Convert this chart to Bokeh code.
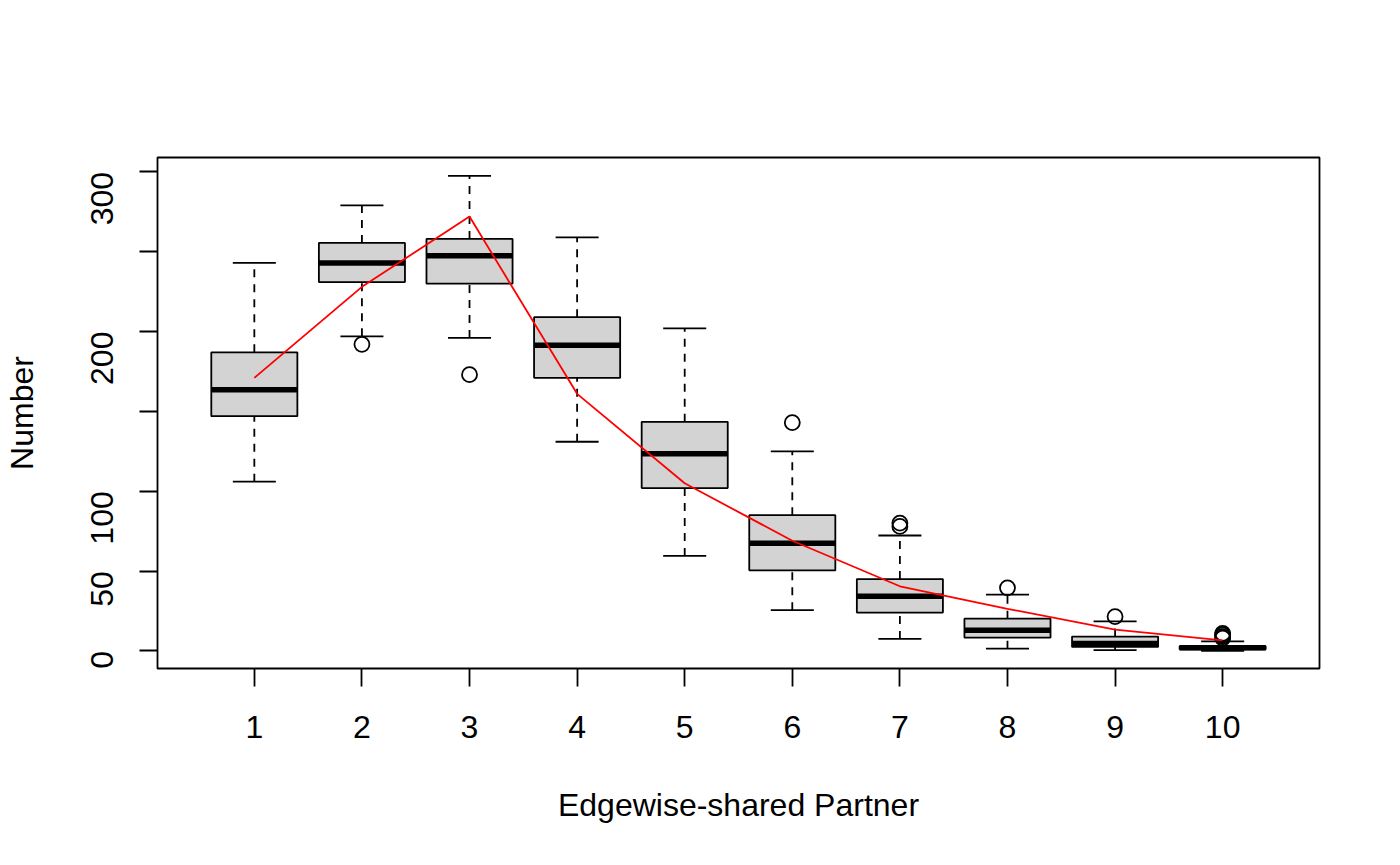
import numpy as np
from bokeh.plotting import figure
from bokeh.models import FixedTicker, Range1d
from bokeh.embed import file_html
from bokeh.resources import INLINE

# ---- data ----
partners = [1, 2, 3, 4, 5, 6, 7, 8, 9, 10]
lower_whisker = [106, 197, 196, 131, 59.5, 25.5, 7.5, 1.4, 0.5, 0]
q1 = [147, 231, 230, 171, 102, 50.5, 24, 8.3, 2.5, 1]
median = [163.5, 243, 247.5, 191.5, 123.5, 67.5, 34.3, 13, 4.7, 2]
q3 = [187, 255.5, 258, 209, 143.5, 85, 45, 20.2, 9, 3]
upper_whisker = [243, 279, 297.5, 259, 202, 125, 72.3, 35.3, 18.5, 6]
outlier_x = [2, 3, 6, 7, 7, 8, 9, 10, 10, 10, 10]
outlier_y = [192, 173, 143, 78, 80, 39.5, 21.5, 8, 9, 10, 11]
observed = [171, 228, 272, 161, 105, 69, 40.5, 26.4, 13.3, 6.6]

x_ticks = [1, 2, 3, 4, 5, 6, 7, 8, 9, 10]
y_ticks = [0, 50, 100, 150, 200, 250, 300]
y_hidden_labels = {150: "", 250: ""}

FONT = "Liberation Sans"
LW = 1.8

x = np.array(partners, dtype=float)
box_w = 0.8
cap_w = 0.4

p = figure(width=1384, height=849, output_backend="svg", toolbar_location=None,
           x_range=Range1d(0.1, 10.9), y_range=Range1d(-11, 309),
           min_border_left=157, min_border_right=65,
           min_border_top=157, min_border_bottom=181)

p.background_fill_color = "white"
p.border_fill_color = "white"
p.outline_line_color = "black"
p.outline_line_width = LW
p.grid.visible = False

# whiskers (dashed)
p.segment(x0=x, y0=q3, x1=x, y1=upper_whisker, line_color="black",
          line_width=LW, line_dash="8 7")
p.segment(x0=x, y0=lower_whisker, x1=x, y1=q1, line_color="black",
          line_width=LW, line_dash="8 7")
# caps
p.segment(x0=x - cap_w / 2, y0=upper_whisker, x1=x + cap_w / 2, y1=upper_whisker,
          line_color="black", line_width=LW)
p.segment(x0=x - cap_w / 2, y0=lower_whisker, x1=x + cap_w / 2, y1=lower_whisker,
          line_color="black", line_width=LW)
# boxes
p.vbar(x=x, width=box_w, bottom=q1, top=q3, fill_color="#d3d3d3",
       line_color="black", line_width=LW)
# medians
p.segment(x0=x - box_w / 2, y0=median, x1=x + box_w / 2, y1=median,
          line_color="black", line_width=5.5, line_cap="butt")
# outliers
p.scatter(x=outlier_x, y=outlier_y, marker="circle", size=15,
          fill_color=None, line_color="black", line_width=LW)
# observed line
p.line(x=x, y=observed, line_color="red", line_width=1.8)

# axes
p.xaxis.ticker = FixedTicker(ticks=x_ticks)
p.yaxis.ticker = FixedTicker(ticks=y_ticks)
p.yaxis.major_label_overrides = y_hidden_labels
for ax in (p.xaxis[0], p.yaxis[0]):
    ax.axis_line_color = None
    ax.major_tick_in = 0
    ax.major_tick_out = 18
    ax.major_tick_line_width = LW
    ax.major_tick_line_color = "black"
    ax.minor_tick_line_color = None
    ax.major_label_text_font = FONT
    ax.major_label_text_font_size = "32px"
    ax.major_label_text_color = "black"
    ax.axis_label_text_font = FONT
    ax.axis_label_text_font_size = "32px"
    ax.axis_label_text_font_style = "normal"
    ax.axis_label_text_color = "black"

p.xaxis.axis_label = "Edgewise-shared Partner"
p.yaxis.axis_label = "Number"
p.xaxis.major_label_standoff = 29
p.xaxis.axis_label_standoff = 46
p.yaxis.major_label_orientation = np.pi / 2
p.yaxis.major_label_standoff = 37
p.yaxis.axis_label_standoff = 38

open("out.html", "w").write(file_html(p, INLINE))
